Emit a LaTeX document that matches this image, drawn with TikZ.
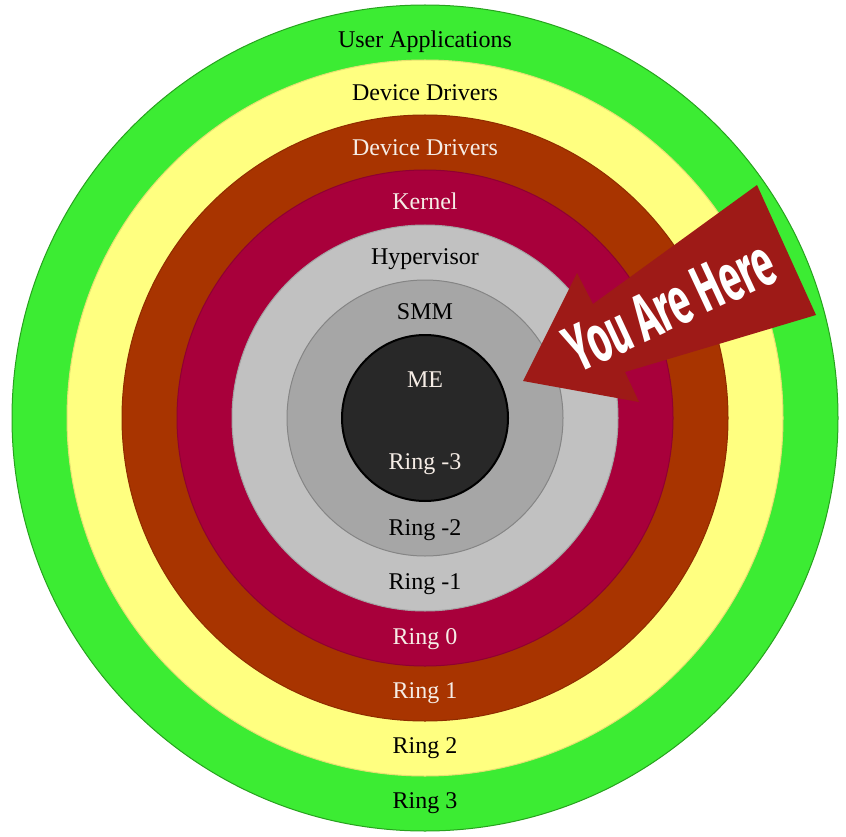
\documentclass[tikz,border=0pt]{standalone}
\usepackage{fontspec}
\setmainfont{Liberation Serif}
\newfontfamily\signfont{Fira Sans}
\usetikzlibrary{positioning}
\definecolor{UserGreen}{HTML}{3CEC33}
\definecolor{UserEdge}{HTML}{27A21E}
\definecolor{DrvYellow}{HTML}{FFFF80}
\definecolor{DrvYellowEdge}{HTML}{E6E070}
\definecolor{DrvBrown}{HTML}{A83400}
\definecolor{KernCrimson}{HTML}{A8003B}
\definecolor{HypGray}{HTML}{C1C1C1}
\definecolor{SmmGray}{HTML}{A6A6A6}
\definecolor{MeDark}{HTML}{282828}
\definecolor{SignRed}{HTML}{9E1A17}
\definecolor{LightText}{HTML}{F6EDE6}
\tikzset{
  ring/.style={circle,inner sep=0pt,outer sep=0pt,line width=1pt},
  lbl/.style={inner sep=0pt,text height=16pt,text depth=0pt,
    font=\fontsize{24}{28}\selectfont},
  lbldark/.style={lbl,text=black},
  lbllight/.style={lbl,text=LightText},
  sign/.style={fill=SignRed,draw=none},
}
\begin{document}
\begin{tikzpicture}[x=1pt,y=-1pt]
  \useasboundingbox (0,0) rectangle (846,837);
  \coordinate (ctr) at (425,418);
  % rings, outermost first
  \node[ring,draw=UserEdge,fill=UserGreen,minimum size=826pt] (r3) at (ctr) {};
  \node[ring,draw=DrvYellowEdge,fill=DrvYellow,minimum size=716pt] (r2) at (ctr) {};
  \node[ring,draw=DrvBrown!85!black,fill=DrvBrown,minimum size=606pt] (r1) at (ctr) {};
  \node[ring,draw=KernCrimson!85!black,fill=KernCrimson,minimum size=496pt] (r0) at (ctr) {};
  \node[ring,draw=HypGray!85!black,fill=HypGray,minimum size=386pt] (rm1) at (ctr) {};
  \node[ring,draw=SmmGray!80!black,fill=SmmGray,minimum size=276pt] (rm2) at (ctr) {};
  \node[ring,draw=black,line width=2pt,fill=MeDark,minimum size=166pt] (rm3) at (ctr) {};
  % upper labels
  \node[lbldark]  (userapp) at (425,40)  {User Applications};
  \node[lbldark]  (drvtop)  at (425,93)  {Device Drivers};
  \node[lbllight] (drvmid)  at (425,148) {Device Drivers};
  \node[lbllight] (kernel)  at (425,202) {Kernel};
  \node[lbldark]  (hyper)   at (425,257) {Hypervisor};
  \node[lbldark]  (smm)     at (425,311) {SMM};
  \node[lbllight] (me)      at (425,379) {ME};
  % lower labels
  \node[lbllight] (ringm3)  at (425,461) {Ring -3};
  \node[lbldark]  (ringm2)  at (425,527) {Ring -2};
  \node[lbldark]  (ringm1)  at (425,581) {Ring -1};
  \node[lbllight] (ring0)   at (425,636) {Ring 0};
  \node[lbllight] (ring1)   at (425,690) {Ring 1};
  \node[lbldark]  (ring2)   at (425,745) {Ring 2};
  \node[lbldark]  (ring3)   at (425,800) {Ring 3};
  % the sign
  \fill[sign] (523,381) -- (577,273) -- (593,304) -- (757,185)
    -- (816,315) -- (625,372) -- (639,402) -- cycle;
  \node[rotate=25,text=white,inner sep=0pt] (here) at (670,306)
    {\resizebox{222pt}{46pt}{\signfont\bfseries You Are Here}};
\end{tikzpicture}
\end{document}
